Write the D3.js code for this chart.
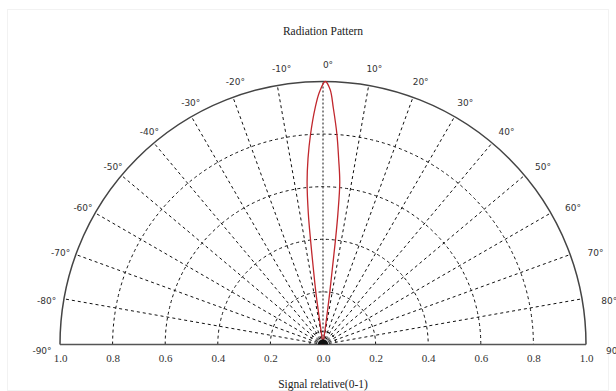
<!DOCTYPE html>
<html><head><meta charset="utf-8">
<script src="https://cdn.jsdelivr.net/npm/d3@7"></script>
<style>body{margin:0;background:#fff}svg{display:block}</style>
</head><body>
<svg id="c" width="616" height="391"></svg>
<script>
// ---- data ----
const title = "Radiation Pattern";
const axisTitle = "Signal relative(0-1)";
const angleTicks = [-90,-80,-70,-60,-50,-40,-30,-20,-10,0,10,20,30,40,50,60,70,80,90];
const spokeAngles = [-80,-70,-60,-50,-40,-30,-20,-10,0,10,20,30,40,50,60,70,80];
const ringValues = [0.05,0.2,0.4,0.6,0.8];
const xTickValues = [-1,-0.8,-0.6,-0.4,-0.2,0,0.2,0.4,0.6,0.8,1];
const xTickLabels = ["1.0","0.8","0.6","0.4","0.2","0.0","0.2","0.4","0.6","0.8","1.0"];
const lobeAngles = [-8.0,-8.0,-7.8,-7.2,-6.8,-6.4,-5.6,-4.6,-3.4,-1.9,-0.8,0.5,1.6,2.5,3.8,4.8,5.9,6.5,6.8,7.0,7.4,7.8,8.0];
const lobeValues = [0.0,0.1,0.2,0.3,0.4,0.5,0.62,0.71,0.80,0.90,0.96,1.0,0.97,0.90,0.80,0.71,0.62,0.5,0.4,0.3,0.2,0.1,0.0];

// ---- layout ----
const svg = d3.select("#c");
const cx = 323, cy = 344.5, R = 263;
const r = d3.scaleLinear().domain([0,1]).range([0,R]);
const x = d3.scaleLinear().domain([-1,1]).range([cx-R, cx+R]);
const rad = d => d*Math.PI/180;
const px = (a,v) => cx + r(v)*Math.sin(rad(a));
const py = (a,v) => cy - r(v)*Math.cos(rad(a));
const halfCircle = v => { const p = d3.path(); p.moveTo(cx - r(v), cy); p.arc(cx, cy, r(v), Math.PI, 2*Math.PI); return p.toString(); };

// faint frame
svg.append("rect").attr("x",7.5).attr("y",9.5).attr("width",601).attr("height",381)
  .attr("fill","none").attr("stroke","#f2f2f2");

const g = svg.append("g");

// rings
g.selectAll("path.ring").data(ringValues).join("path").attr("class","ring")
  .attr("d", halfCircle)
  .attr("fill","none").attr("stroke","#111").attr("stroke-width",1)
  .attr("stroke-dasharray","3,3");

// spokes
g.selectAll("line.spoke").data(spokeAngles).join("line").attr("class","spoke")
  .attr("x1", a=>px(a,0)).attr("y1", a=>py(a,0))
  .attr("x2", a=>px(a,1)).attr("y2", a=>py(a,1))
  .attr("stroke","#111").attr("stroke-width",1)
  .attr("stroke-dasharray", a => a===0 ? "2,2" : "3,3");

// outer arc
g.append("path").attr("d", halfCircle(1))
  .attr("fill","none").attr("stroke","#444").attr("stroke-width",1.5);

// baseline
g.append("line").attr("x1",x(-1)).attr("x2",x(1)).attr("y1",cy).attr("y2",cy)
  .attr("stroke","#555").attr("stroke-width",1.5);

// lobe
const lobe = lobeAngles.map((a,i)=>[a,lobeValues[i]]);
const lineGen = d3.line().x(d=>px(d[0],d[1])).y(d=>py(d[0],d[1])).curve(d3.curveCatmullRom);
g.append("path").attr("d", lineGen(lobe)).attr("fill","none")
  .attr("stroke","#c1272d").attr("stroke-width",1.3);

// center block
g.append("path").attr("transform",`translate(${cx},${cy})`)
  .attr("d", d3.arc().innerRadius(0).outerRadius(r(0.02)).startAngle(-Math.PI/2).endAngle(Math.PI/2)())
  .attr("fill","#111");

// angle labels
g.selectAll("text.ang").data(angleTicks).join("text").attr("class","ang")
  .attr("x", a => px(a,1) + 23*Math.sign(a)*Math.pow(Math.sin(rad(a)),2) + 5)
  .attr("y", a => py(a,1) - 23*Math.cos(rad(a)) + 6)
  .attr("dy","0.35em").attr("text-anchor","middle")
  .attr("font-family","DejaVu Sans, sans-serif").attr("font-size",9).attr("fill","#333")
  .text(a => a + "°");

// x axis labels
const axis = d3.axisBottom(x).tickValues(xTickValues)
  .tickFormat((d,i)=>xTickLabels[i]).tickSize(0).tickPadding(0);
const ax = svg.append("g").attr("transform",`translate(0,${cy+10})`).call(axis);
ax.select(".domain").remove();
ax.selectAll("text").attr("font-family","Liberation Serif, serif").attr("font-size",11).attr("fill","#333");

// titles
svg.append("text").attr("x",cx).attr("y",35).attr("text-anchor","middle")
  .attr("font-family","Liberation Serif, serif").attr("font-size",11.5).attr("fill","#222")
  .text(title);
svg.append("text").attr("x",cx).attr("y",388).attr("text-anchor","middle")
  .attr("font-family","Liberation Serif, serif").attr("font-size",11.5).attr("fill","#222")
  .text(axisTitle);
</script>
</body></html>
